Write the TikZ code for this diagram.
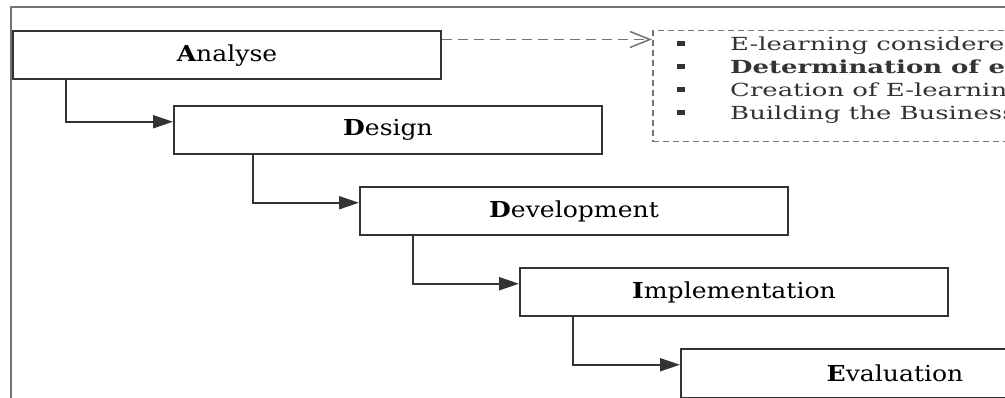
\documentclass[tikz,border=0pt]{standalone}
\usepackage{fontspec}
\setmainfont{DejaVu Serif}
\usepackage{tikz}
\usetikzlibrary{arrows.meta}

\newcommand{\wide}[1]{\scalebox{1.14}[1]{#1}}
\newcommand{\widenote}[1]{\scalebox{1.44}[1]{#1}}
\newcommand{\entry}[1]{\rule[5pt]{8pt}{5pt}\hspace*{45pt}\widenote{#1}}

\begin{document}
\begin{tikzpicture}[x=1pt,y=-1pt,
            phase/.style={draw=black!80,line width=2pt,minimum width=428pt,minimum height=48.5pt,
              anchor=north west,inner sep=0pt,font=\fontsize{22}{26}\selectfont},
            flow/.style={draw=black!80,line width=2pt,-{Triangle[length=20pt,width=13pt]}},
            notebox/.style={draw=black!55,line width=1.5pt,dash pattern=on 6pt off 4pt,
              minimum width=420pt,minimum height=111pt,anchor=north west,inner sep=0pt},
            noteline/.style={anchor=base west,inner sep=0pt,text=black!80,font=\fontsize{18}{22}\selectfont}
            ]
            \useasboundingbox (0,0) rectangle (1005,398);
            \clip (0,0) rectangle (1005,398);
            
            % The frame
            \draw[black!55,line width=2.5pt] (11,420) |- (1030,7);
            
            % The phases
            \node[phase] (ana) at (12,30) {\wide{{\bfseries A}nalyse}};
            \node[phase] (des) at (173,105) {\wide{{\bfseries D}esign}};
            \node[phase] (dev) at (359,186) {\wide{{\bfseries D}evelopment}};
            \node[phase] (imp) at (519,267) {\wide{{\bfseries I}mplementation}};
            \node[phase] (eva) at (680,348) {\wide{{\bfseries E}valuation}};
            
            % The steps
            \draw[flow] ([xshift=54pt]ana.south west) |- ([yshift=8.5pt]des.west);
            \draw[flow] ([xshift=80pt]des.south west) |- ([yshift=8.5pt]dev.west);
            \draw[flow] ([xshift=54pt]dev.south west) |- ([yshift=8.5pt]imp.west);
            \draw[flow] ([xshift=54pt]imp.south west) |- ([yshift=8.5pt]eva.west);
            
            % The notes
            \node[notebox] (notes) at (652,30) {};
            \draw[black!55,line width=1.5pt,dash pattern=on 10pt off 6pt,-{Straight Barb[length=20pt,width=16pt,line width=1.5pt]}]
              ([yshift=-9.5pt]ana.north east) -- ([yshift=-9.5pt]notes.north west);
            \node[noteline] (n1) at (677,51) {\entry{E-learning considered}};
            \node[noteline] (n2) at (677,74) {\entry{\bfseries Determination of e-}};
            \node[noteline] (n3) at (677,97) {\entry{Creation of E-learning}};
            \node[noteline] (n4) at (677,120) {\entry{Building the Business}};
        \end{tikzpicture}
\end{document}
